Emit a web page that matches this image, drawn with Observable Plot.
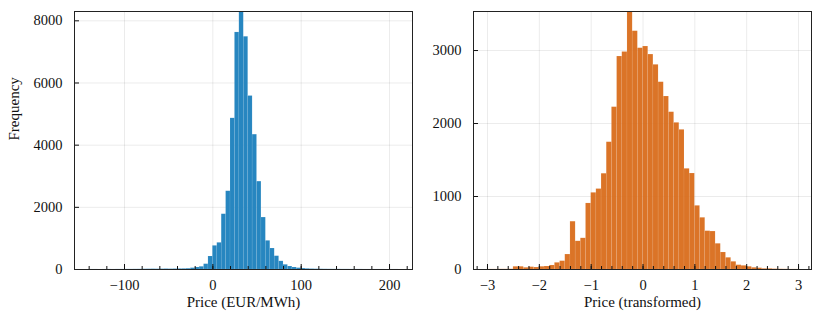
<!DOCTYPE html>
<html>
<head>
<meta charset="utf-8">
<script src="https://cdn.jsdelivr.net/npm/d3@7"></script>
<script src="https://cdn.jsdelivr.net/npm/@observablehq/plot@0.6"></script>
<style>
  html, body { margin: 0; padding: 0; background: #fff; }
  #wrap { display: flex; width: 822px; height: 320px; }
</style>
</head>
<body>
<div id="wrap"></div>
<script>
// ---- Left histogram: Price (EUR/MWh), bins of 5 starting at -140 ----
const leftBinStart = -140;
const leftBinWidth = 5;
const leftCounts = [
  1, 1, 0, 1, 2, 1, 2, 2, 3, 3, 4, 5,             // -140 .. -85
  8, 10, 12, 10, 12, 15, 12, 15, 18, 20, 25,       // -80 .. -30
  43, 64, 86, 171, 418,                            // -25 .. -5
  760, 857, 1778, 2517, 4862, 7626, 8600, 7486,    // 0 .. 35
  5580, 4338, 2827, 1671, 921, 675, 428, 262,      // 40 .. 75
  150, 96, 64, 43, 30, 20, 14, 10, 8, 6,           // 80 .. 125
  5, 4, 4, 3, 3, 2, 2, 2, 1, 1, 1, 1, 1, 0, 1, 1   // 130 .. 205
];
const leftXTicks = [-100, 0, 100, 200];
const leftXMinor = [-140, -120, -100, -80, -60, -40, -20, 0, 20, 40, 60, 80, 100, 120, 140, 160, 180, 200, 220];
const leftYTicks = [0, 2000, 4000, 6000, 8000];

// ---- Right histogram: Price (transformed), bins of 0.1 starting at -3.0 ----
const rightBinStart = -3.0;
const rightBinWidth = 0.1;
const rightCounts = [
  1, 1, 2, 2, 3, 37, 37, 23, 32, 27,               // -3.0 .. -2.1
  37, 41, 55, 91, 114, 205, 655, 386, 427, 905,    // -2.0 .. -1.1
  1050, 1102, 1312, 1744, 2224, 2918, 2980, 3700, 3265, 3032, // -1.0 .. -0.1
  3055, 2945, 2804, 2566, 2370, 2155, 2009, 1913, 1379, 1315, // 0.0 .. 0.9
  872, 708, 525, 520, 352, 233, 160, 105, 59, 50,  // 1.0 .. 1.9
  37, 23, 18, 9, 9, 5, 3, 2, 1, 1                  // 2.0 .. 2.9
];
const rightXTicks = [-3, -2, -1, 0, 1, 2, 3];
const rightXMinor = [-3.2, -3.0, -2.8, -2.6, -2.4, -2.2, -2.0, -1.8, -1.6, -1.4, -1.2, -1.0, -0.8, -0.6, -0.4, -0.2, 0, 0.2, 0.4, 0.6, 0.8, 1.0, 1.2, 1.4, 1.6, 1.8, 2.0, 2.2, 2.4, 2.6, 2.8, 3.0, 3.2];
const rightYTicks = [0, 1000, 2000, 3000];

const leftColor = "#1b80bd";
const rightColor = "#d96d1b";
const FONT = "'Liberation Serif', 'DejaVu Serif', serif";

function binsOf(start, width, counts, scale) {
  return counts.map((c, i) => ({
    x1: Math.round((start + i * width) * scale) / scale,
    x2: Math.round((start + (i + 1) * width) * scale) / scale,
    y: c
  }));
}

function panel({width, marginLeft, marginRight, xDomain, yDomain, bins, color,
                xTicks, xMinor, yTicks, xLabel, yLabel}) {
  const H = 320, mt = 11, mb = 51;
  const fh = H - mt - mb;
  const fw = width - marginLeft - marginRight;
  const marks = [
    Plot.gridX(xTicks, {stroke: "#000", strokeOpacity: 0.08}),
    Plot.gridY(yTicks, {stroke: "#000", strokeOpacity: 0.08}),
    Plot.rectY(bins, {x1: "x1", x2: "x2", y: "y", fill: color, fillOpacity: 0.95,
                      stroke: "#fff", strokeOpacity: 0.15, strokeWidth: 0.5, clip: true}),
    Plot.tickX(xMinor, {x: d => d, insetTop: fh - 3, stroke: "#111", strokeWidth: 1}),
    Plot.tickX(xTicks, {x: d => d, insetTop: fh - 5, stroke: "#111", strokeWidth: 1}),
    Plot.tickY(yTicks, {y: d => d, insetRight: fw - 5, stroke: "#111", strokeWidth: 1}),
    Plot.axisX({ticks: xTicks, tickSize: 0, tickPadding: 10, label: null,
                tickFormat: d => (d < 0 ? "\u2212" + Math.abs(d) : String(d))}),
    Plot.axisY({ticks: yTicks, tickSize: 0, tickPadding: 12, label: null, tickFormat: d => String(d)}),
    Plot.frame({stroke: "#222", strokeWidth: 1}),
    Plot.text([xLabel], {text: d => d, frameAnchor: "bottom", lineAnchor: "top", dy: 27, fontSize: 15})
  ];
  if (yLabel) {
    marks.push(Plot.text([yLabel], {text: d => d, frameAnchor: "left", rotate: -90, dx: -60, fontSize: 15}));
  }
  return Plot.plot({
    width, height: H,
    marginLeft, marginRight, marginTop: mt, marginBottom: mb,
    style: {fontFamily: FONT, fontSize: "14.5px", color: "#111", background: "#fff", overflow: "visible"},
    x: {domain: xDomain},
    y: {domain: yDomain},
    marks
  });
}

const wrap = document.getElementById("wrap");
wrap.appendChild(panel({
  width: 420, marginLeft: 74, marginRight: 8,
  xDomain: [-156.6, 226], yDomain: [0, 8300],
  bins: binsOf(leftBinStart, leftBinWidth, leftCounts, 1),
  color: leftColor,
  xTicks: leftXTicks, xMinor: leftXMinor, yTicks: leftYTicks,
  xLabel: "Price (EUR/MWh)", yLabel: "Frequency"
}));
wrap.appendChild(panel({
  width: 402, marginLeft: 53, marginRight: 11,
  xDomain: [-3.27, 3.25], yDomain: [0, 3535],
  bins: binsOf(rightBinStart, rightBinWidth, rightCounts, 10),
  color: rightColor,
  xTicks: rightXTicks, xMinor: rightXMinor, yTicks: rightYTicks,
  xLabel: "Price (transformed)", yLabel: null
}));
</script>
</body>
</html>
